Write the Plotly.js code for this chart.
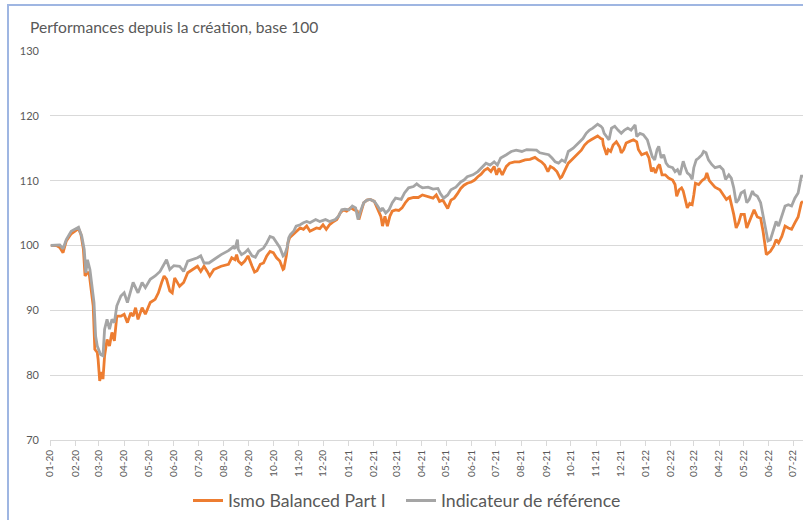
<!DOCTYPE html>
<html>
<head>
<meta charset="utf-8">
<script src="https://cdn.plot.ly/plotly-3.0.1.min.js"></script>
<style>
  html, body { margin: 0; padding: 0; background: #ffffff; }
  #wrap { position: relative; width: 803px; height: 520px; overflow: hidden; }
  #chart { width: 803px; height: 520px; }
  #frame { position: absolute; left: 7px; top: 4px; width: 800px; height: 520px;
           border-left: 2px solid #9fb6e2; border-top: 2px solid #9fb6e2; pointer-events: none; }
</style>
</head>
<body>
<div id="wrap">
  <div id="chart"></div>
  <div id="frame"></div>
</div>
<script>
const titleText = 'Performances depuis la création, base 100';
const nameIsmo = 'Ismo Balanced Part I';
const nameRef = 'Indicateur de référence';

const datesIsmo = [
'2020-01-02','2020-01-09','2020-01-13','2020-01-17','2020-01-21','2020-01-27',
'2020-02-05','2020-02-08','2020-02-11','2020-02-13','2020-02-16','2020-02-18','2020-02-20','2020-02-23','2020-02-25','2020-02-28','2020-02-29',
'2020-03-02','2020-03-04','2020-03-06','2020-03-08','2020-03-11','2020-03-14','2020-03-17','2020-03-20','2020-03-23','2020-03-28',
'2020-04-01','2020-04-05','2020-04-09','2020-04-12','2020-04-15','2020-04-18','2020-04-23','2020-04-27',
'2020-05-03','2020-05-09','2020-05-13','2020-05-17','2020-05-20','2020-05-23','2020-05-27','2020-05-30',
'2020-06-02','2020-06-08','2020-06-13','2020-06-18','2020-06-24','2020-06-30',
'2020-07-04','2020-07-08','2020-07-12','2020-07-15','2020-07-20','2020-07-29',
'2020-08-07','2020-08-11','2020-08-15','2020-08-17','2020-08-19','2020-08-23','2020-08-27','2020-08-31',
'2020-09-05','2020-09-08','2020-09-11','2020-09-15','2020-09-19','2020-09-23','2020-09-27',
'2020-10-01','2020-10-05','2020-10-09','2020-10-13','2020-10-14','2020-10-17','2020-10-19','2020-10-21','2020-10-25','2020-10-29',
'2020-11-03','2020-11-07','2020-11-11','2020-11-15','2020-11-19','2020-11-23','2020-11-27',
'2020-12-01','2020-12-05','2020-12-09','2020-12-13','2020-12-18','2020-12-22','2020-12-26','2020-12-30',
'2021-01-04','2021-01-08','2021-01-12','2021-01-14','2021-01-16','2021-01-20','2021-01-24','2021-01-28',
'2021-02-02','2021-02-06','2021-02-10','2021-02-12','2021-02-15','2021-02-18','2021-02-21','2021-02-24','2021-02-28',
'2021-03-04','2021-03-08','2021-03-12','2021-03-16','2021-03-22','2021-03-28',
'2021-04-02','2021-04-09','2021-04-15','2021-04-19','2021-04-23','2021-04-27',
'2021-05-01','2021-05-03','2021-05-07','2021-05-11','2021-05-15','2021-05-19','2021-05-23','2021-05-27',
'2021-06-01','2021-06-05','2021-06-09','2021-06-13','2021-06-17','2021-06-21','2021-06-25','2021-06-29',
'2021-07-02','2021-07-05','2021-07-09','2021-07-14','2021-07-18','2021-07-24','2021-07-30',
'2021-08-06','2021-08-12','2021-08-18','2021-08-22','2021-08-26','2021-08-30',
'2021-09-03','2021-09-06','2021-09-10','2021-09-14','2021-09-18','2021-09-20','2021-09-24','2021-09-28',
'2021-10-02','2021-10-06','2021-10-10','2021-10-14','2021-10-18','2021-10-22','2021-10-26',
'2021-11-03','2021-11-07','2021-11-09','2021-11-10','2021-11-14','2021-11-16','2021-11-19','2021-11-22','2021-11-26','2021-11-30',
'2021-12-02','2021-12-05','2021-12-08','2021-12-13','2021-12-17','2021-12-21','2021-12-23','2021-12-27',
'2022-01-02','2022-01-05','2022-01-08','2022-01-10','2022-01-13','2022-01-16','2022-01-18','2022-01-21','2022-01-25','2022-01-29',
'2022-02-03','2022-02-06','2022-02-08','2022-02-11','2022-02-14','2022-02-16','2022-02-19','2022-02-21','2022-02-24','2022-02-27',
'2022-03-01','2022-03-03','2022-03-07','2022-03-11','2022-03-15','2022-03-17','2022-03-20','2022-03-23','2022-03-27',
'2022-04-02','2022-04-06','2022-04-10','2022-04-14','2022-04-16','2022-04-19','2022-04-22','2022-04-25','2022-04-28',
'2022-05-02','2022-05-05','2022-05-08','2022-05-12','2022-05-14','2022-05-18','2022-05-22','2022-05-25','2022-05-27','2022-05-29',
'2022-06-03','2022-06-07','2022-06-10','2022-06-13','2022-06-17','2022-06-21','2022-06-25','2022-06-29',
'2022-07-03','2022-07-07','2022-07-11','2022-07-13'];

const ismo = [
100.0,100.0,99.7,98.9,100.7,101.8,
102.6,101.7,99.4,95.3,95.8,95.8,93.7,90.7,84.0,83.5,82.5,
79.1,80.5,79.4,83.0,85.5,84.5,86.6,85.3,89.1,89.1,
89.4,88.1,89.6,89.1,90.4,88.6,90.4,89.4,
91.2,91.7,92.7,94.3,95.3,94.8,93.0,92.7,
95.0,93.7,94.3,95.8,96.3,96.8,
96.0,96.8,96.0,95.3,96.3,96.8,
97.1,98.1,97.8,98.6,97.6,97.1,97.6,98.4,
96.8,95.9,96.1,97.1,97.3,98.4,99.1,
98.9,98.1,97.6,96.3,96.4,98.4,100.4,101.2,101.7,102.2,
102.7,102.5,103.0,102.2,102.5,102.7,102.6,
103.2,102.5,103.2,103.6,104.0,105.0,105.5,105.3,
105.8,105.5,105.3,104.0,105.0,106.6,107.0,107.1,
106.8,105.5,104.5,103.0,104.5,103.0,104.5,105.3,105.5,
105.4,105.8,106.6,107.2,107.4,107.4,
107.8,107.5,107.3,107.8,106.8,107.0,
106.0,105.7,107.0,107.3,108.0,108.8,109.3,109.6,
109.8,110.1,110.6,111.0,111.6,111.9,111.4,112.2,
110.9,111.9,110.9,112.2,112.7,112.9,112.9,
113.2,113.3,113.6,113.2,112.9,112.4,
111.4,112.2,111.9,111.4,110.4,110.6,111.6,112.7,
113.2,113.7,114.2,114.7,115.5,116.0,116.3,
116.9,116.5,116.4,115.5,114.0,114.8,114.5,115.5,116.0,115.2,
114.3,114.8,115.8,116.1,116.3,116.0,114.8,114.0,
114.3,113.5,111.4,112.0,111.2,112.2,112.5,110.9,110.9,110.4,
110.1,109.4,107.6,108.6,108.9,108.4,106.8,105.8,106.5,106.3,
107.8,109.6,109.4,110.0,110.4,111.2,110.0,109.6,109.0,
108.6,107.8,107.1,107.5,106.5,104.8,102.7,103.5,104.8,
104.8,102.7,103.7,104.8,105.5,104.4,104.2,102.2,100.4,98.6,
99.1,99.9,100.9,100.4,101.4,103.0,102.7,102.5,
103.5,104.4,106.6,106.8];

const datesRef = [
'2020-01-02','2020-01-13','2020-01-17','2020-01-21','2020-01-27',
'2020-02-05','2020-02-09','2020-02-12','2020-02-14','2020-02-16','2020-02-19','2020-02-22','2020-02-24','2020-02-26','2020-02-28',
'2020-03-03','2020-03-06','2020-03-08','2020-03-11','2020-03-14','2020-03-17','2020-03-20','2020-03-23','2020-03-28',
'2020-04-01','2020-04-05','2020-04-09','2020-04-12','2020-04-15','2020-04-18','2020-04-23','2020-04-27',
'2020-05-03','2020-05-09','2020-05-15','2020-05-19','2020-05-23','2020-05-27',
'2020-06-01','2020-06-08','2020-06-13','2020-06-18','2020-06-24','2020-06-30',
'2020-07-04','2020-07-08','2020-07-14','2020-07-20','2020-07-29',
'2020-08-07','2020-08-13','2020-08-15','2020-08-18','2020-08-19','2020-08-23','2020-08-27','2020-08-31',
'2020-09-05','2020-09-09','2020-09-13','2020-09-19','2020-09-23','2020-09-27',
'2020-10-01','2020-10-05','2020-10-09','2020-10-13','2020-10-15','2020-10-18','2020-10-20','2020-10-22','2020-10-26','2020-10-29',
'2020-11-03','2020-11-07','2020-11-11','2020-11-15','2020-11-22','2020-11-27',
'2020-12-04','2020-12-09','2020-12-16','2020-12-20','2020-12-24','2020-12-28',
'2021-01-02','2021-01-06','2021-01-10','2021-01-13','2021-01-16','2021-01-20','2021-01-24','2021-01-28',
'2021-02-02','2021-02-06','2021-02-10','2021-02-12','2021-02-16','2021-02-20','2021-02-24','2021-02-28',
'2021-03-03','2021-03-07','2021-03-11','2021-03-16','2021-03-22','2021-03-26','2021-03-29',
'2021-04-02','2021-04-09','2021-04-15','2021-04-21','2021-04-24','2021-04-28',
'2021-05-03','2021-05-07','2021-05-13','2021-05-19','2021-05-23','2021-05-27',
'2021-06-03','2021-06-09','2021-06-13','2021-06-19','2021-06-24','2021-06-29',
'2021-07-03','2021-07-07','2021-07-14','2021-07-20','2021-07-26',
'2021-08-02','2021-08-08','2021-08-14','2021-08-20','2021-08-24','2021-08-30',
'2021-09-04','2021-09-08','2021-09-12','2021-09-16','2021-09-20','2021-09-24','2021-09-28',
'2021-10-04','2021-10-10','2021-10-16','2021-10-20','2021-10-24','2021-10-28',
'2021-11-03','2021-11-07','2021-11-09','2021-11-11','2021-11-14','2021-11-17','2021-11-20','2021-11-24','2021-11-28',
'2021-12-02','2021-12-06','2021-12-10','2021-12-14','2021-12-19','2021-12-21','2021-12-25','2021-12-29',
'2022-01-03','2022-01-06','2022-01-09','2022-01-12','2022-01-15','2022-01-17','2022-01-20','2022-01-23','2022-01-26','2022-01-29',
'2022-02-03','2022-02-06','2022-02-09','2022-02-12','2022-02-16','2022-02-18','2022-02-21','2022-02-24','2022-02-27',
'2022-03-01','2022-03-04','2022-03-07','2022-03-11','2022-03-13','2022-03-16','2022-03-19','2022-03-23','2022-03-27',
'2022-04-02','2022-04-06','2022-04-09','2022-04-13','2022-04-16','2022-04-19','2022-04-22','2022-04-25','2022-04-28',
'2022-05-02','2022-05-05','2022-05-08','2022-05-12','2022-05-14','2022-05-18','2022-05-22','2022-05-25','2022-05-28','2022-05-31',
'2022-06-03','2022-06-07','2022-06-10','2022-06-13','2022-06-17','2022-06-21','2022-06-25','2022-06-29',
'2022-07-03','2022-07-07','2022-07-11','2022-07-13'];

const ref = [
100.0,100.1,99.5,100.9,102.2,
102.8,101.4,99.4,95.8,97.8,96.3,92.7,91.2,86.0,84.5,
83.2,83.0,87.1,88.6,87.1,88.6,88.1,90.7,92.2,
92.7,91.2,93.0,94.3,93.5,92.7,94.3,93.5,
94.8,95.3,96.0,96.8,97.8,96.3,
96.9,96.8,96.0,97.6,97.8,98.1,
98.4,97.3,97.3,97.8,98.6,
99.2,99.8,99.5,100.9,99.4,98.6,98.9,99.4,
98.4,98.2,99.1,99.6,100.4,101.4,
101.2,100.4,99.7,98.4,98.6,99.7,101.2,101.7,102.2,103.0,
103.2,103.5,103.7,103.5,104.0,103.7,
104.0,103.7,104.0,104.5,105.5,105.6,
105.5,106.1,105.8,104.0,105.3,106.6,107.0,107.1,
106.8,106.1,105.3,105.8,105.0,105.5,106.6,107.3,
107.2,107.1,108.1,108.9,109.1,109.5,109.2,
108.9,109.0,108.7,108.8,108.0,107.3,
107.8,108.6,109.0,109.8,110.1,110.6,
110.9,111.4,111.9,112.7,112.4,112.9,
112.4,113.5,114.0,114.5,114.7,
114.5,114.8,114.7,114.7,114.3,114.1,
114.0,113.5,112.9,112.7,113.2,112.9,114.5,
115.0,115.8,116.5,117.3,117.8,118.1,
118.7,118.4,118.1,117.3,116.8,116.3,118.1,118.4,117.8,
117.3,117.8,118.1,117.8,118.6,116.8,117.3,117.1,
116.3,115.0,113.7,113.2,114.8,115.3,113.5,114.0,112.7,112.2,
112.0,111.4,111.7,110.9,113.0,112.2,111.2,110.9,110.2,
112.0,113.2,113.5,114.0,114.5,114.3,113.2,112.5,112.0,
112.2,111.7,110.2,110.9,110.4,108.9,106.6,107.1,108.1,
108.4,106.6,107.1,108.4,107.9,107.6,106.6,104.5,102.2,100.7,
100.9,102.7,103.7,103.0,104.5,106.1,106.3,106.1,
107.3,108.1,110.7,110.7];

const FONT = 'Lato, "Open Sans", sans-serif';
const TXT = '#595959';

const traces = [
  { x: datesIsmo, y: ismo, name: nameIsmo, type: 'scatter', mode: 'lines',
    line: { color: '#ED7D31', width: 2.8 }, legend: 'legend' },
  { x: datesRef, y: ref, name: nameRef, type: 'scatter', mode: 'lines',
    line: { color: '#A5A5A5', width: 2.8 }, legend: 'legend2' }
];

const legendFont = { family: FONT, size: 17.7, color: TXT };

const layout = {
  width: 803, height: 520,
  margin: { l: 50, r: 0, t: 51, b: 80, pad: 0 },
  paper_bgcolor: '#ffffff', plot_bgcolor: '#ffffff',
  font: { family: FONT, color: TXT },
  title: { text: titleText, font: { family: FONT, size: 15.6, color: TXT },
           xref: 'container', yref: 'container', x: 30/803, xanchor: 'left',
           y: 1 - 28/520, yanchor: 'middle' },
  xaxis: {
    type: 'date', range: ['2020-01-01', '2022-07-13'],
    tick0: '2020-01-01', dtick: 'M1', tickformat: '%m-%y', tickangle: -90,
    ticks: 'outside', ticklen: 5, tickcolor: '#d9d9d9', tickwidth: 1,
    showline: true, linecolor: '#d9d9d9', linewidth: 1,
    showgrid: false, zeroline: false,
    tickfont: { family: FONT, size: 10, color: TXT }
  },
  yaxis: {
    range: [70, 130], dtick: 10, tick0: 70,
    showgrid: true, gridcolor: '#d9d9d9', gridwidth: 1,
    showline: false, zeroline: false, ticks: '',
    ticklabelstandoff: 10,
    tickfont: { family: FONT, size: 11, color: TXT }
  },
  showlegend: true,
  legend: {
    orientation: 'h', xref: 'container', yref: 'container',
    x: 188/803, xanchor: 'left', y: 1 - 501/520, yanchor: 'middle',
    font: legendFont, bgcolor: 'rgba(0,0,0,0)'
  },
  legend2: {
    orientation: 'h', xref: 'container', yref: 'container',
    x: 401/803, xanchor: 'left', y: 1 - 501/520, yanchor: 'middle',
    font: legendFont, bgcolor: 'rgba(0,0,0,0)'
  },
  hovermode: false
};

Plotly.newPlot('chart', traces, layout, { displayModeBar: false, staticPlot: true });
</script>
</body>
</html>
